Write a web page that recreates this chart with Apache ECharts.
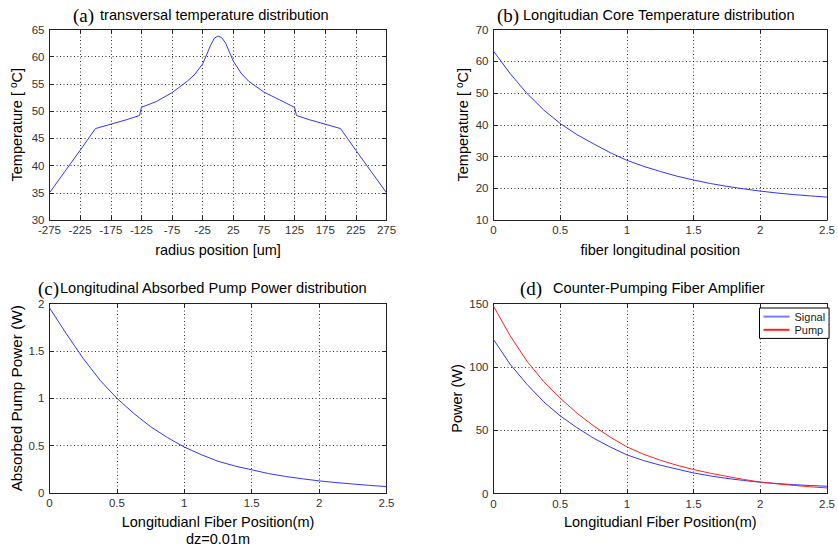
<!DOCTYPE html>
<html><head><meta charset="utf-8">
<script src="https://cdn.jsdelivr.net/npm/echarts@6/dist/echarts.min.js"></script>
<style>html,body{margin:0;padding:0;background:#fff}#c{width:838px;height:548px}</style>
</head><body><div id="c"></div>
<script>
// (a) transversal temperature distribution
const radiusPos = [-275,-250,-225,-200,-175,-150,-128,-125,-100,-75,-50,-37.5,-25,-18,-12.5,-6,0,6,12.5,18,25,37.5,50,75,100,125,128,150,175,200,225,250,275];
const transTemp = [35.0,38.9,42.8,46.8,47.6,48.4,49.2,50.7,51.8,53.4,55.5,56.8,58.7,60.5,62.0,63.4,63.8,63.5,62.5,61.0,59.2,57.0,55.5,53.5,52.1,50.7,49.2,48.4,47.6,46.8,42.8,38.9,35.0];
// longitudinal positions (m)
const fiberPos = [0,0.125,0.25,0.375,0.5,0.625,0.75,0.875,1,1.125,1.25,1.375,1.5,1.625,1.75,1.875,2,2.125,2.25,2.375,2.5];
// (b) core temperature
const coreTemp = [63.2,56.1,49.9,44.7,40.4,36.9,34.0,31.2,28.8,26.9,25.3,23.8,22.6,21.5,20.6,19.8,19.1,18.5,18.0,17.6,17.2];
// (c) absorbed pump power
const absorbedPump = [1.955,1.68,1.42,1.19,1.00,0.84,0.70,0.585,0.485,0.405,0.335,0.285,0.245,0.205,0.175,0.15,0.128,0.11,0.095,0.08,0.068];
// (d) counter-pumping amplifier
const signalPower = [121.6,102,86.3,72.5,61.3,52,43.7,36.7,30.5,26,22.4,19.3,16.2,13.9,11.9,10.3,8.9,7.9,7.0,6.3,5.7];
const pumpPower = [148,124.5,104.5,88.5,75.3,63.5,53.4,44.5,36.8,31,26.3,22.3,18.9,16,13.5,11.1,9.0,7.6,6.4,5.3,4.4];
const seriesNames = ['Signal','Pump'];

const FONT = '"Liberation Sans", Arial, sans-serif';
const SERIF = '"Liberation Serif", "Times New Roman", serif';
const grids = [
  {left:49.5, top:29.5, width:337, height:190.5},
  {left:493.5, top:29.5, width:339, height:190.5},
  {left:49.5, top:303.5, width:337, height:190},
  {left:493.5, top:303.5, width:339, height:190}
];
const axisLine = {show:true, onZero:false, lineStyle:{color:'#222', width:1}};
const axisTick = {show:true, inside:true, length:4, lineStyle:{color:'#222'}};
const splitLine = {show:true, lineStyle:{color:'#333', type:[1,2.5], width:1}};
const axisLabel = {color:'#333', fontSize:11.5, fontFamily:FONT, margin:5, showMinLabel:true, showMaxLabel:true};
const mkName = (size) => ({color:'#000', fontSize:size, fontFamily:FONT, lineHeight:17,
  rich:{sup:{fontSize:10, fontFamily:FONT, color:'#000', padding:[0,0,7,0]}}});

const xAxis = [], yAxis = [];
function addAxes(gi, xr, yr, xName, yName, xGap, yGap, ySize){
  xAxis.push({type:'value', gridIndex:gi, min:xr[0], max:xr[1], interval:xr[2], position:'bottom',
    axisLine, axisTick, splitLine, axisLabel:Object.assign({}, axisLabel, {margin:4}), name:xName, nameLocation:'middle', nameGap:xGap, nameTextStyle:mkName(14.5)});
  xAxis.push({type:'value', gridIndex:gi, min:xr[0], max:xr[1], interval:xr[2], position:'top',
    axisLine, axisTick, splitLine:{show:false}, axisLabel:{show:false}});
  yAxis.push({type:'value', gridIndex:gi, min:yr[0], max:yr[1], interval:yr[2], position:'left',
    axisLine, axisTick, splitLine, axisLabel, name:yName, nameLocation:'middle', nameGap:yGap, nameTextStyle:mkName(ySize)});
  yAxis.push({type:'value', gridIndex:gi, min:yr[0], max:yr[1], interval:yr[2], position:'right',
    axisLine, axisTick, splitLine:{show:false}, axisLabel:{show:false}});
}
addAxes(0, [-275,275,50], [30,65,5], 'radius position [um]', 'Temperature [ {sup|o}C]', 21, 24, 14.5);
addAxes(1, [0,2.5,0.5], [10,70,10], 'fiber longitudinal position', 'Temperature [ {sup|o}C]', 21, 21, 14.5);
addAxes(2, [0,2.5,0.5], [0,2,0.5], 'Longitudianl Fiber Position(m)\ndz=0.01m', 'Absorbed Pump Power (W)', 20, 25, 15.3);
addAxes(3, [0,2.5,0.5], [0,150,50], 'Longitudianl Fiber Position(m)', 'Power (W)', 20, 28, 14.5);

const pairs = (xs, ys) => xs.map((x,i)=>[x, ys[i]]);
const BLUE = '#3434ff', RED = '#ff2020';
const line = (gi, data, color, name) => ({type:'line', name, xAxisIndex:gi*2, yAxisIndex:gi*2, data,
  symbol:'none', smooth:false, silent:true, animation:false, lineStyle:{color, width:1}, itemStyle:{color}});

const titles = [
  {p:'(a)', px:73, t:'transversal temperature distribution', tx:100, y:15},
  {p:'(b)', px:497, t:'Longitudian Core Temperature distribution', tx:523, y:15},
  {p:'(c)', px:38, t:'Longitudinal Absorbed Pump Power distribution', tx:60, y:288},
  {p:'(d)', px:520, t:'Counter-Pumping Fiber Amplifier', tx:553, y:288}
];
const graphic = [];
titles.forEach(o=>{
  graphic.push({type:'text', x:o.px, y:o.y, silent:true, style:{text:o.p, fontSize:19, fontFamily:SERIF, fill:'#000', verticalAlign:'middle'}});
  graphic.push({type:'text', x:o.tx, y:o.y, silent:true, style:{text:o.t, fontSize:14.6, fontFamily:FONT, fill:'#000', verticalAlign:'middle'}});
});

const chart = echarts.init(document.getElementById('c'), null, {renderer:'svg'});
chart.setOption({
  backgroundColor:'#fff',
  animation:false,
  grid: grids,
  xAxis, yAxis,
  graphic,
  legend:{show:true, orient:'vertical', left:759.5, top:308, padding:[3,4,3,3], itemGap:2,
    itemWidth:26, itemHeight:14, borderColor:'#000', borderWidth:1, borderRadius:0, backgroundColor:'#fff',
    itemStyle:{opacity:0},
    textStyle:{color:'#222', fontSize:11, fontFamily:FONT},
    data:[{name:seriesNames[0], lineStyle:{width:2, color:'#7a7aff'}}, {name:seriesNames[1]}]},
  series:[
    line(0, pairs(radiusPos, transTemp), BLUE, 'a'),
    line(1, pairs(fiberPos, coreTemp), BLUE, 'b'),
    line(2, pairs(fiberPos, absorbedPump), BLUE, 'c'),
    line(3, pairs(fiberPos, signalPower), BLUE, seriesNames[0]),
    line(3, pairs(fiberPos, pumpPower), RED, seriesNames[1])
  ]
});
</script></body></html>
